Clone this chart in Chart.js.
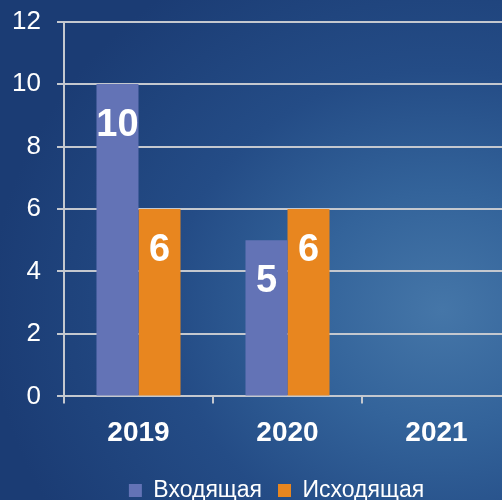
<!DOCTYPE html>
<html>
<head>
<meta charset="utf-8">
<script src="https://cdn.jsdelivr.net/npm/chart.js@4/dist/chart.umd.min.js"></script>
<style>
  html, body { margin:0; padding:0; width:502px; height:500px; overflow:hidden; }
  body { background: radial-gradient(ellipse 90% 80% at 88% 62%, #4576a8 0%, #33639a 30%, #244c86 60%, #1b3c74 100%); }
  #wrap { position:absolute; left:0; top:-10px; width:511px; height:522px; }
</style>
</head>
<body>
<div id="wrap"><canvas id="c" width="511" height="522"></canvas></div>
<script>
const categories = ['2019', '2020', '2021'];
const incoming = [10, 5, null];
const outgoing = [6, 6, null];
const seriesNames = ['Входящая', 'Исходящая'];
const yTicks = [0, 2, 4, 6, 8, 10, 12];

const valueLabels = {
  id: 'valueLabels',
  afterDatasetsDraw(chart) {
    const ctx = chart.ctx;
    ctx.save();
    ctx.fillStyle = '#ffffff';
    ctx.font = 'bold 38px "Liberation Sans", Arial, sans-serif';
    ctx.textAlign = 'center';
    ctx.textBaseline = 'alphabetic';
    chart.data.datasets.forEach((ds, i) => {
      const meta = chart.getDatasetMeta(i);
      meta.data.forEach((el, j) => {
        const v = ds.data[j];
        if (v === null || v === undefined) return;
        ctx.fillText(String(v), el.x, el.y + 52);
      });
    });
    ctx.restore();
  }
};

const shiftLegend = {
  id: 'shiftLegend',
  afterLayout(chart) {
    const lg = chart.legend;
    if (lg) { lg.left += 21; lg.right += 21; }
  }
};

new Chart(document.getElementById('c'), {
  type: 'bar',
  data: {
    labels: categories,
    datasets: [
      { label: seriesNames[0], data: incoming, backgroundColor: '#6373b6' },
      { label: seriesNames[1], data: outgoing, backgroundColor: '#e8861f' }
    ]
  },
  options: {
    responsive: false,
    animation: false,
    layout: { padding: { top: 0, left: 0, right: 0, bottom: 0 } },
    datasets: { bar: { categoryPercentage: 0.564, barPercentage: 1 } },
    plugins: {
      legend: {
        position: 'bottom',
        labels: {
          color: '#ffffff',
          font: { family: '"Liberation Sans", Arial, sans-serif', size: 23 },
          boxWidth: 13, boxHeight: 13, padding: 16
        }
      },
      tooltip: { enabled: false }
    },
    scales: {
      x: {
        grid: { display: true, drawOnChartArea: false, offset: true, color: '#c4c8cf', lineWidth: 2, tickLength: 7 },
        border: { display: true, color: '#c4c8cf', width: 2 },
        ticks: {
          color: '#ffffff', padding: 13,
          font: { family: '"Liberation Sans", Arial, sans-serif', size: 28, weight: 'bold' }
        }
      },
      y: {
        min: 0, max: 12,
        afterBuildTicks(axis) { axis.ticks = yTicks.map(v => ({ value: v })); },
        afterFit(axis) { axis.width = 64; },
        grid: { color: '#c4c8cf', lineWidth: 2, tickLength: 7 },
        border: { display: true, color: '#c4c8cf', width: 2 },
        ticks: {
          color: '#ffffff', padding: 16,
          font: { family: '"Liberation Sans", Arial, sans-serif', size: 26 }
        }
      }
    }
  },
  plugins: [valueLabels, shiftLegend]
});
</script>
</body>
</html>
